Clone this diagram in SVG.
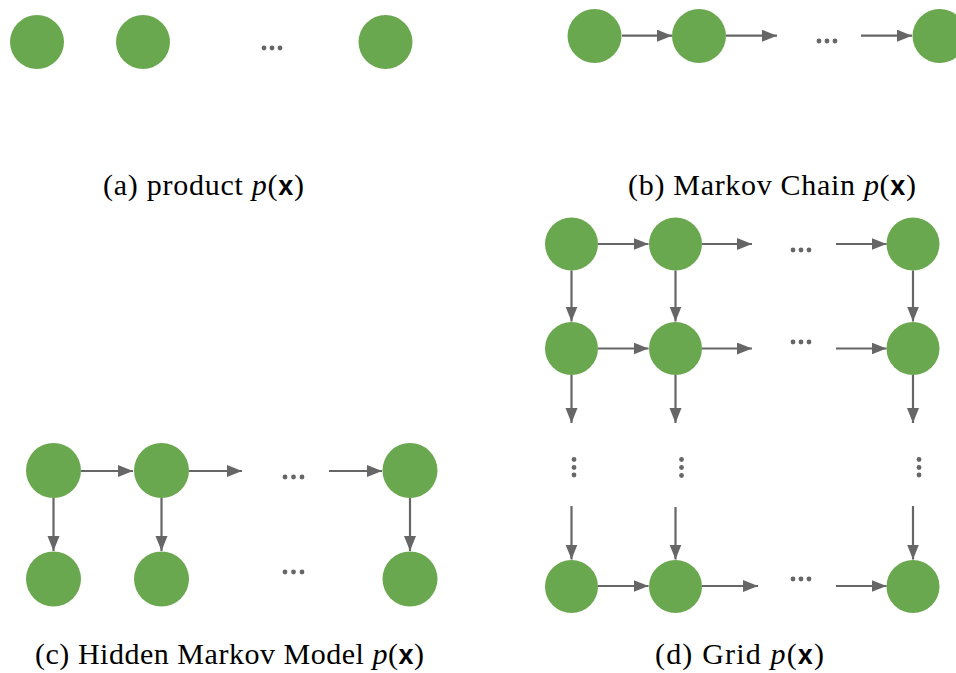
<svg xmlns="http://www.w3.org/2000/svg" width="956" height="673" viewBox="0 0 956 673">
<style>
.n{fill:#6aa84f}
.e{stroke:#666666;stroke-width:2.2;fill:none;marker-end:url(#ah)}
.d{fill:#666666}
.lbl{font-family:"Liberation Serif","DejaVu Serif",serif;font-size:30px;fill:#000}
.it{font-style:italic}
.bx{font-family:"Liberation Sans","DejaVu Sans",sans-serif;font-weight:bold;font-size:27px}
</style>
<defs>
<marker id="ah" markerUnits="userSpaceOnUse" markerWidth="16" markerHeight="13" refX="15" refY="6" orient="auto">
<path d="M0,0 L15,6 L0,12 z" fill="#666666"/>
</marker>
</defs>
<rect width="956" height="673" fill="#fff"/>

<!-- (a) product -->
<g id="a1"><circle class="n" cx="37" cy="42" r="27"/></g>
<g id="a2"><circle class="n" cx="143" cy="42" r="27"/></g>
<g id="a3"><circle class="n" cx="385.5" cy="42" r="27"/></g>
<g id="a-dots"><circle class="d" cx="264" cy="48" r="2.4"/><circle class="d" cx="272" cy="48" r="2.4"/><circle class="d" cx="280" cy="48" r="2.4"/></g>
<text class="lbl" x="103" y="195" textLength="201" lengthAdjust="spacing">(a) product <tspan class="it">p</tspan>(<tspan class="bx">x</tspan>)</text>

<!-- (b) Markov chain -->
<g id="b1"><circle class="n" cx="594.5" cy="36" r="27"/></g>
<g id="b2"><circle class="n" cx="699" cy="36" r="27"/></g>
<g id="b3"><circle class="n" cx="939.5" cy="36" r="27"/></g>
<g id="b-dots"><circle class="d" cx="819" cy="41" r="2.4"/><circle class="d" cx="827" cy="41" r="2.4"/><circle class="d" cx="835" cy="41" r="2.4"/></g>
<text class="lbl" x="628" y="195" textLength="288" lengthAdjust="spacing">(b) Markov Chain <tspan class="it">p</tspan>(<tspan class="bx">x</tspan>)</text>

<!-- (c) HMM -->
<g id="c1"><circle class="n" cx="53.5" cy="470.5" r="27.5"/></g>
<g id="c2"><circle class="n" cx="161.5" cy="470.5" r="27.5"/></g>
<g id="c3"><circle class="n" cx="410" cy="470.5" r="27.5"/></g>
<g id="c4"><circle class="n" cx="53.5" cy="579" r="27.5"/></g>
<g id="c5"><circle class="n" cx="161.5" cy="579" r="27.5"/></g>
<g id="c6"><circle class="n" cx="410" cy="579" r="27.5"/></g>
<g id="c-dots"><circle class="d" cx="285" cy="477" r="2.4"/><circle class="d" cx="293.5" cy="477" r="2.4"/><circle class="d" cx="302" cy="477" r="2.4"/>
<circle class="d" cx="285" cy="572" r="2.4"/><circle class="d" cx="293.5" cy="572" r="2.4"/><circle class="d" cx="302" cy="572" r="2.4"/></g>
<text class="lbl" x="35" y="664" textLength="389" lengthAdjust="spacing">(c) Hidden Markov Model <tspan class="it">p</tspan>(<tspan class="bx">x</tspan>)</text>

<!-- (d) Grid -->
<g id="d11"><circle class="n" cx="571.5" cy="244" r="26.5"/></g>
<g id="d12"><circle class="n" cx="675.5" cy="244" r="26.5"/></g>
<g id="d13"><circle class="n" cx="913" cy="244" r="26.5"/></g>
<g id="d21"><circle class="n" cx="571.5" cy="348.5" r="26.5"/></g>
<g id="d22"><circle class="n" cx="675.5" cy="348.5" r="26.5"/></g>
<g id="d23"><circle class="n" cx="913" cy="348.5" r="26.5"/></g>
<g id="d31"><circle class="n" cx="571.5" cy="586.5" r="26.5"/></g>
<g id="d32"><circle class="n" cx="675.5" cy="586.5" r="26.5"/></g>
<g id="d33"><circle class="n" cx="913" cy="586.5" r="26.5"/></g>
<g id="d-dots">
<circle class="d" cx="793" cy="250" r="2.4"/><circle class="d" cx="801" cy="250" r="2.4"/><circle class="d" cx="809" cy="250" r="2.4"/>
<circle class="d" cx="793" cy="342" r="2.4"/><circle class="d" cx="801" cy="342" r="2.4"/><circle class="d" cx="809" cy="342" r="2.4"/>
<circle class="d" cx="793" cy="579" r="2.4"/><circle class="d" cx="801" cy="579" r="2.4"/><circle class="d" cx="809" cy="579" r="2.4"/>
<circle class="d" cx="574" cy="459.5" r="2.4"/><circle class="d" cx="574" cy="467.5" r="2.4"/><circle class="d" cx="574" cy="475" r="2.4"/>
<circle class="d" cx="681.5" cy="459.5" r="2.4"/><circle class="d" cx="681.5" cy="467.5" r="2.4"/><circle class="d" cx="681.5" cy="475.5" r="2.4"/>
<circle class="d" cx="919" cy="459.5" r="2.4"/><circle class="d" cx="919" cy="467.5" r="2.4"/><circle class="d" cx="919" cy="475" r="2.4"/>
</g>
<text class="lbl" x="655" y="664" textLength="169" lengthAdjust="spacing">(d) Grid <tspan class="it">p</tspan>(<tspan class="bx">x</tspan>)</text>

<g id="connectors">
<!-- b -->
<line class="e" x1="622" y1="35.7" x2="672" y2="35.7"/>
<line class="e" x1="726" y1="35.7" x2="777" y2="35.7"/>
<line class="e" x1="861" y1="35.7" x2="912" y2="35.7"/>
<!-- c -->
<line class="e" x1="81" y1="471" x2="133" y2="471"/>
<line class="e" x1="189" y1="471" x2="242" y2="471"/>
<line class="e" x1="329" y1="471" x2="382" y2="471"/>
<line class="e" x1="53.5" y1="498" x2="53.5" y2="551"/>
<line class="e" x1="161.5" y1="498" x2="161.5" y2="551"/>
<line class="e" x1="410" y1="498" x2="410" y2="551"/>
<!-- d rows -->
<line class="e" x1="598" y1="244" x2="648.5" y2="244"/>
<line class="e" x1="702" y1="244" x2="752" y2="244"/>
<line class="e" x1="836" y1="244" x2="886.5" y2="244"/>
<line class="e" x1="598" y1="348.5" x2="648.5" y2="348.5"/>
<line class="e" x1="702" y1="348.5" x2="752" y2="348.5"/>
<line class="e" x1="836" y1="348.5" x2="886.5" y2="348.5"/>
<line class="e" x1="598" y1="586" x2="648.5" y2="586"/>
<line class="e" x1="702" y1="586" x2="758" y2="586"/>
<line class="e" x1="836" y1="586" x2="886.5" y2="586"/>
<!-- d columns -->
<line class="e" x1="571.5" y1="270.5" x2="571.5" y2="321.5"/>
<line class="e" x1="675.5" y1="270.5" x2="675.5" y2="321.5"/>
<line class="e" x1="913" y1="270.5" x2="913" y2="321.5"/>
<line class="e" x1="571.5" y1="375" x2="571.5" y2="423"/>
<line class="e" x1="675.5" y1="375" x2="675.5" y2="423"/>
<line class="e" x1="913" y1="375" x2="913" y2="423"/>
<line class="e" x1="571.5" y1="506" x2="571.5" y2="559.5"/>
<line class="e" x1="675.5" y1="507" x2="675.5" y2="559.5"/>
<line class="e" x1="913" y1="506" x2="913" y2="559.5"/>
</g>
</svg>
